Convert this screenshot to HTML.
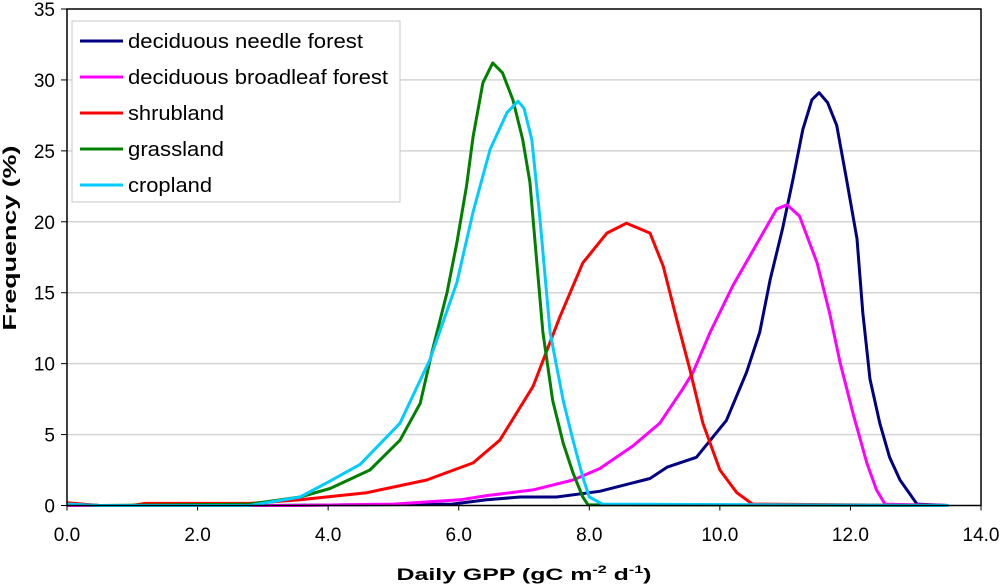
<!DOCTYPE html>
<html><head><meta charset="utf-8"><style>
body{margin:0;background:#fff;}
svg{display:block;font-family:"Liberation Sans",Arial,sans-serif;}
</style></head><body>
<svg id="chart" width="1000" height="585">
<g id="grid"></g>
<g id="series"></g>
<rect x="67" y="9" width="914" height="496.5" fill="none" stroke="#000" stroke-width="1.5"/>
<g id="yticks"></g>
<g id="xticks"></g>
<text x="0" y="0" transform="translate(16,238) rotate(-90)" text-anchor="middle" font-size="18" font-weight="bold" textLength="185" lengthAdjust="spacingAndGlyphs">Frequency (%)</text>
<text x="524" y="580" text-anchor="middle" font-size="17" font-weight="bold" textLength="255" lengthAdjust="spacingAndGlyphs">Daily GPP (gC m<tspan dy="-7" font-size="11">-2</tspan><tspan dy="7"> d</tspan><tspan dy="-7" font-size="11">-1</tspan><tspan dy="7">)</tspan></text>
<g>
<rect x="72" y="21" width="328" height="181" fill="#fff" stroke="#c8c8c8" stroke-width="1"/>
<g id="legend-items"></g>
</g>
</svg>
<script>
const yTicks=[0,5,10,15,20,25,30,35];
const xTicks=[0,2,4,6,8,10,12,14];
const names=["deciduous needle forest","deciduous broadleaf forest","shrubland","grassland","cropland"];
const colors=["#000080","#ff00ff","#ff0000","#008000","#00ccff"];
const legendLens=[235,260,96,96,84];
const needleX=[0,3,5.9,6.43,6.94,7.5,8.16,8.67,8.93,9.19,9.64,10.1,10.41,10.61,10.77,10.96,11.12,11.27,11.41,11.52,11.65,11.79,11.94,12.1,12.19,12.3,12.45,12.6,12.76,13.02,13.5];
const needleY=[0,0,0.1,0.4,0.6,0.6,1.0,1.6,1.9,2.7,3.4,6.0,9.4,12.2,15.9,19.5,23,26.5,28.6,29.1,28.4,26.8,23,18.8,13.6,8.9,5.8,3.4,1.8,0.1,0];
const broadX=[0,3.5,5,6.02,6.43,7.14,7.75,8.16,8.67,9.08,9.43,9.59,9.85,10.2,10.61,10.87,11.03,11.22,11.49,11.68,11.84,12.04,12.25,12.4,12.53,13.5];
const broadY=[0,0,0.1,0.4,0.7,1.1,1.8,2.6,4.2,5.8,8.2,9.4,12.2,15.5,18.8,20.9,21.2,20.4,17.1,13.6,10.1,6.5,3.0,1.1,0.1,0];
const shrubX=[0,0.5,1.0,1.2,2.8,3.57,4.59,5.51,6.22,6.63,7.14,7.55,7.9,8.27,8.57,8.93,9.13,9.34,9.54,9.74,10.0,10.26,10.5,13.5];
const shrubY=[0.2,0,0,0.15,0.15,0.4,0.9,1.8,3.0,4.6,8.4,13.3,17.1,19.2,19.9,19.2,16.9,13.1,9.6,5.8,2.5,0.9,0.1,0];
const grassX=[0,0.5,2.8,3.57,4.03,4.64,5.1,5.41,5.6,5.82,5.97,6.12,6.22,6.37,6.52,6.67,6.83,6.98,7.09,7.2,7.29,7.44,7.6,7.75,7.9,7.98,13.5];
const grassY=[0.1,0,0.1,0.6,1.2,2.5,4.6,7.2,11,15,18.5,22.5,26,29.8,31.2,30.5,28.6,25.8,22.8,16.9,12.2,7.4,4.4,2.3,0.6,0.05,0];
const cropX=[0,0.5,2.8,3.57,3.98,4.49,5.1,5.56,5.97,6.22,6.48,6.74,6.91,7.0,7.12,7.24,7.4,7.6,7.75,7.9,8.0,8.2,13.5];
const cropY=[0.1,0,0,0.6,1.6,2.9,5.8,10.3,15.7,20.7,25.1,27.7,28.5,28,25.8,20.4,12.2,7.4,4.6,2.0,0.6,0.1,0];
const xs=[needleX,broadX,shrubX,grassX,cropX];
const ys=[needleY,broadY,shrubY,grassY,cropY];
const NS="http://www.w3.org/2000/svg";
const X0=67,X1=981,Y0=505.5,Y1=9;
function sx(v){return X0+(v/14)*(X1-X0);}
function sy(v){return Y0-(v/35)*(Y0-Y1);}
function mk(t,a,p){const e=document.createElementNS(NS,t);for(const k in a)e.setAttribute(k,a[k]);p.appendChild(e);return e;}
const grid=document.getElementById('grid'),yt=document.getElementById('yticks'),xt=document.getElementById('xticks');
yTicks.forEach(v=>{
 if(v>0&&v<35){const l=mk('line',{x1:X0,x2:X1,y1:sy(v),y2:sy(v),stroke:'#d4d4d4','stroke-width':1.5},grid);
 
 }
 const t=mk('line',{x1:X0-6,x2:X0,y1:sy(v),y2:sy(v),stroke:'#000'},yt);
 
 
 const tx=mk('text',{x:X0-12,y:sy(v)+7,'text-anchor':'end','font-size':19},yt);tx.textContent=v;
 
 
});
xTicks.forEach(v=>{
 const t=mk('line',{x1:sx(v),x2:sx(v),y1:Y0,y2:Y0+5,stroke:'#000'},xt);
 
 
 const tx=mk('text',{x:sx(v),y:541,'text-anchor':'middle','font-size':19},xt);tx.textContent=v.toFixed(1);
 
 
});
const sg=document.getElementById('series');
for(let i=0;i<5;i++){
 const pts=xs[i].map((x,j)=>sx(x).toFixed(1)+','+sy(ys[i][j]).toFixed(1)).join(' ');
 const p=mk('polyline',{points:pts,fill:'none',stroke:colors[i],'stroke-width':3,'stroke-linejoin':'round'},sg);
 
 
}
const lg=document.getElementById('legend-items');
names.forEach((n,i)=>{
 const y=41+i*36;
 const g=mk('g',{},lg);
 
 
 mk('line',{x1:80,x2:123,y1:y,y2:y,stroke:colors[i],'stroke-width':3},g);
 const t=mk('text',{x:128,y:y+7,'font-size':20,textLength:legendLens[i],lengthAdjust:'spacingAndGlyphs'},g);t.textContent=n;
});
</script>
</body></html>
